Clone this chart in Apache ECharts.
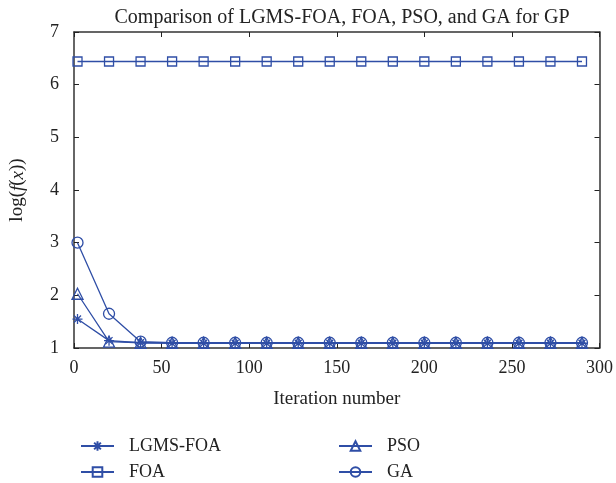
<!DOCTYPE html>
<html>
<head>
<meta charset="utf-8">
<script src="https://cdn.jsdelivr.net/npm/echarts@6/dist/echarts.min.js"></script>
<style>
  html, body { margin: 0; padding: 0; background: #fff; }
  #chart { width: 616px; height: 483px; }
</style>
</head>
<body>
<div id="chart"></div>
<script>
// iteration numbers where markers are plotted
const iterations = [2, 20, 38, 56, 74, 92, 110, 128, 146, 164, 182, 200, 218, 236, 254, 272, 290];
const lgmsFoa = [1.55, 1.14, 1.1, 1.09, 1.09, 1.09, 1.09, 1.09, 1.09, 1.09, 1.09, 1.09, 1.09, 1.09, 1.09, 1.09, 1.09];
const foa = [6.44, 6.44, 6.44, 6.44, 6.44, 6.44, 6.44, 6.44, 6.44, 6.44, 6.44, 6.44, 6.44, 6.44, 6.44, 6.44, 6.44];
const pso = [2.03, 1.12, 1.1, 1.1, 1.1, 1.1, 1.1, 1.1, 1.1, 1.1, 1.1, 1.1, 1.1, 1.1, 1.1, 1.1, 1.1];
const ga = [3.0, 1.65, 1.12, 1.1, 1.1, 1.1, 1.1, 1.1, 1.1, 1.1, 1.1, 1.1, 1.1, 1.1, 1.1, 1.1, 1.1];

const BLUE = '#2f4ea6';
const FONT = '"Liberation Serif", "DejaVu Serif", serif';
const STAR = 'path://M5 0 L5 10 M0 5 L10 5 M1.5 1.5 L8.5 8.5 M8.5 1.5 L1.5 8.5';

const chart = echarts.init(document.getElementById('chart'), null, { renderer: 'canvas' });

function pairs(ys) {
  return iterations.map((x, i) => [x, ys[i]]);
}

function lineSeries(name, ys, symbol, size) {
  return {
    name: name,
    type: 'line',
    data: pairs(ys),
    symbol: symbol,
    symbolSize: size,
    showAllSymbol: true,
    animation: false,
    lineStyle: { color: BLUE, width: 1.3 },
    itemStyle: { color: 'transparent', borderColor: BLUE, borderWidth: 1.3 },
    emphasis: { disabled: true }
  };
}

// one legend per entry so the two columns line up like the original
function legendItem(name, left, top) {
  return {
    data: [name],
    left: left, top: top,
    itemWidth: 33, itemHeight: 12,
    textStyle: { color: '#222', fontFamily: FONT, fontSize: 18, padding: [0, 0, 0, 10] }
  };
}

function axisLine() {
  return { show: true, onZero: false, lineStyle: { color: '#333', width: 1.5 } };
}
function ticks() {
  return { show: true, inside: true, length: 5, lineStyle: { color: '#222', width: 1 } };
}
function labels(margin) {
  return { show: true, inside: false, margin: margin, color: '#222', fontFamily: FONT, fontSize: 18 };
}

chart.setOption({
  backgroundColor: '#fff',
  title: {
    text: 'Comparison of LGMS-FOA, FOA, PSO, and GA for GP',
    left: 337, top: 3, textAlign: 'center',
    textStyle: { color: '#222', fontFamily: FONT, fontSize: 20, fontWeight: 'normal' }
  },
  grid: { left: 74, right: 15, top: 32, bottom: 135 },
  legend: [
    legendItem('LGMS-FOA', 75, 432),
    legendItem('FOA', 75, 458),
    legendItem('PSO', 333, 432),
    legendItem('GA', 333, 458)
  ],
  xAxis: [
    {
      type: 'value', min: 0, max: 300, interval: 50,
      name: 'Iteration number', nameLocation: 'middle', nameGap: 42,
      nameTextStyle: { color: '#222', fontFamily: FONT, fontSize: 19 },
      axisLine: axisLine(), axisTick: ticks(), axisLabel: labels(11),
      splitLine: { show: false }
    },
    {
      type: 'value', position: 'top', min: 0, max: 300, interval: 50,
      axisLine: axisLine(), axisTick: ticks(),
      axisLabel: { show: false }, splitLine: { show: false }
    }
  ],
  yAxis: [
    {
      type: 'value', min: 1, max: 7, interval: 1,
      name: '{a|log(}{i|f}{a|(}{i|x}{a|))}', nameLocation: 'middle', nameGap: 47,
      nameTextStyle: {
        rich: {
          a: { color: '#222', fontFamily: FONT, fontSize: 19 },
          i: { color: '#222', fontFamily: FONT, fontSize: 19, fontStyle: 'italic' }
        }
      },
      axisLine: axisLine(), axisTick: ticks(), axisLabel: labels(15),
      splitLine: { show: false }
    },
    {
      type: 'value', position: 'right', min: 1, max: 7, interval: 1,
      axisLine: axisLine(), axisTick: ticks(),
      axisLabel: { show: false }, splitLine: { show: false }
    }
  ],
  series: [
    lineSeries('LGMS-FOA', lgmsFoa, STAR, 10),
    lineSeries('FOA', foa, 'rect', 9),
    lineSeries('PSO', pso, 'triangle', 11),
    lineSeries('GA', ga, 'circle', 11)
  ]
});
</script>
</body>
</html>
